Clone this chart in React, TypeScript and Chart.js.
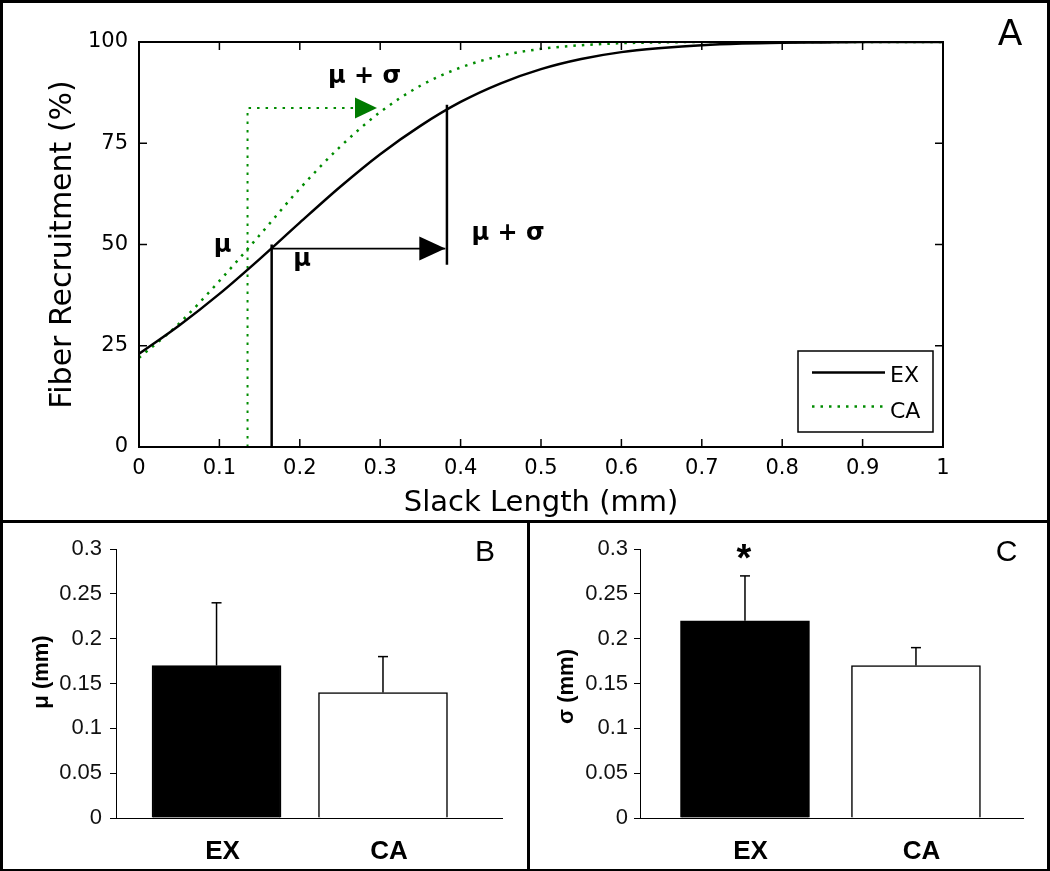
import React, { useEffect, useRef } from 'react';
import { Chart, registerables } from 'chart.js';
Chart.register(...registerables);

// ---------- Panel A data ----------
const slackLength = [0, 0.05, 0.1, 0.15, 0.2, 0.25, 0.3, 0.35, 0.4, 0.45, 0.5, 0.55, 0.6, 0.65, 0.7, 0.75, 0.8, 0.85, 0.9, 0.95, 1];
const exRecruitment = [23, 30, 37.8, 46.4, 55.4, 64.2, 72.3, 79.3, 85.2, 89.8, 93.3, 95.8, 97.5, 98.5, 99.2, 99.6, 99.8, 99.9, 100, 100, 100];
const caRecruitment = [22, 30.5, 41, 52.3, 63.8, 74.1, 82.7, 89.2, 93.7, 96.6, 98.3, 99.2, 99.7, 99.9, 100, 100, 100, 100, 100, 100, 100];

const xTicksA = [0, 0.1, 0.2, 0.3, 0.4, 0.5, 0.6, 0.7, 0.8, 0.9, 1];
const xTickLabelsA = ['0', '0.1', '0.2', '0.3', '0.4', '0.5', '0.6', '0.7', '0.8', '0.9', '1'];
const yTicksA = [0, 25, 50, 75, 100];
const yTickLabelsA = ['0', '25', '50', '75', '100'];

// guide lines (mu and mu+sigma markers)
const exMuGuideX = [0.165, 0.165];
const exMuGuideY = [0, 50];
const exArrowLineX = [0.165, 0.381];
const exArrowLineY = [49, 49];
const exSigmaGuideX = [0.383, 0.383];
const exSigmaGuideY = [45, 84.5];
const caGuideX = [0.135, 0.135, 0.29];
const caGuideY = [0, 83.7, 83.7];
const exArrowTip = [0.381, 49];
const caArrowTip = [0.296, 83.7];

// ---------- Panels B & C data ----------
const groups = ['EX', 'CA'];
const muMeans = [0.17, 0.14];
const muErrors = [0.07, 0.04];
const sigmaMeans = [0.22, 0.17];
const sigmaErrors = [0.05, 0.02];
const barTicks = [0, 0.05, 0.1, 0.15, 0.2, 0.25, 0.3];
const barTickLabels = ['0', '0.05', '0.1', '0.15', '0.2', '0.25', '0.3'];

const DV = 'DejaVu Sans';
const LS = 'Liberation Sans';
const GREEN = '#008c00';

function line(ctx: CanvasRenderingContext2D, x1: number, y1: number, x2: number, y2: number) {
  ctx.beginPath();
  ctx.moveTo(x1, y1);
  ctx.lineTo(x2, y2);
  ctx.stroke();
}

function triangleRight(ctx: CanvasRenderingContext2D, tx: number, ty: number, len: number, half: number, color: string) {
  ctx.fillStyle = color;
  ctx.beginPath();
  ctx.moveTo(tx, ty);
  ctx.lineTo(tx - len, ty - half);
  ctx.lineTo(tx - len, ty + half);
  ctx.closePath();
  ctx.fill();
}

const panelAPlugin = {
  id: 'panelA',
  afterDatasetsDraw(chart: any) {
    const { ctx, chartArea: a, scales } = chart;
    const x = scales.x;
    const y = scales.y;
    ctx.save();
    ctx.setLineDash([]);
    ctx.strokeStyle = '#000';
    ctx.lineWidth = 2;
    ctx.strokeRect(a.left, a.top, a.right - a.left, a.bottom - a.top);
    ctx.lineWidth = 1.5;
    xTicksA.forEach((v) => {
      const px = x.getPixelForValue(v);
      line(ctx, px, a.bottom, px, a.bottom - 8);
      line(ctx, px, a.top, px, a.top + 8);
    });
    yTicksA.forEach((v) => {
      const py = y.getPixelForValue(v);
      line(ctx, a.left, py, a.left + 8, py);
      line(ctx, a.right, py, a.right - 8, py);
    });
    // arrow heads
    triangleRight(ctx, x.getPixelForValue(exArrowTip[0]), y.getPixelForValue(exArrowTip[1]), 26, 12, '#000');
    triangleRight(ctx, x.getPixelForValue(caArrowTip[0]), y.getPixelForValue(caArrowTip[1]), 22, 10.5, '#007a00');

    // annotations
    ctx.fillStyle = '#000';
    ctx.font = `bold 24px "${DV}"`;
    ctx.textAlign = 'center';
    ctx.textBaseline = 'middle';
    const notes: [string, number, number][] = [
      ['μ', 0.104, 49.6],
      ['μ', 0.2027, 46.2],
      ['μ + σ', 0.459, 52.6],
      ['μ + σ', 0.2805, 91.4],
    ];
    notes.forEach(([t, vx, vy]) => ctx.fillText(t, x.getPixelForValue(vx), y.getPixelForValue(vy)));

    // legend
    const lw = 135, lh = 81;
    const lx = a.right - 10 - lw;
    const ly = a.bottom - 15 - lh;
    ctx.fillStyle = '#fff';
    ctx.fillRect(lx, ly, lw, lh);
    ctx.strokeStyle = '#000';
    ctx.lineWidth = 1.5;
    ctx.strokeRect(lx, ly, lw, lh);
    ctx.lineWidth = 2.5;
    line(ctx, lx + 14, ly + 21.5, lx + 87, ly + 21.5);
    ctx.strokeStyle = GREEN;
    ctx.setLineDash([2.5, 6]);
    line(ctx, lx + 14, ly + 55.5, lx + 87, ly + 55.5);
    ctx.setLineDash([]);
    ctx.fillStyle = '#000';
    ctx.font = `22px "${DV}"`;
    ctx.textAlign = 'left';
    ctx.fillText(chart.data.datasets[0].label, lx + 92, ly + 25);
    ctx.fillText(chart.data.datasets[1].label, lx + 92, ly + 61);

    // panel letter
    ctx.font = `36px "${DV}"`;
    ctx.textAlign = 'center';
    ctx.fillText('A', 1010, 36);
    ctx.restore();
  },
};

function pts(xs: number[], ys: number[]) {
  return xs.map((v, i) => ({ x: v, y: ys[i] }));
}

function configA(): any {
  const guide = (xs: number[], ys: number[], color: string, width: number, dash: number[] = []) => ({
    label: '',
    data: pts(xs, ys),
    showLine: true,
    borderColor: color,
    borderWidth: width,
    borderDash: dash,
    pointRadius: 0,
    tension: 0,
  });
  return {
    type: 'scatter',
    data: {
      datasets: [
        {
          label: 'EX',
          data: pts(slackLength, exRecruitment),
          showLine: true,
          borderColor: '#000',
          borderWidth: 2.5,
          pointRadius: 0,
          cubicInterpolationMode: 'monotone',
        },
        {
          label: 'CA',
          data: pts(slackLength, caRecruitment),
          showLine: true,
          borderColor: GREEN,
          borderWidth: 2.5,
          borderDash: [2.5, 6],
          pointRadius: 0,
          cubicInterpolationMode: 'monotone',
        },
        guide(caGuideX, caGuideY, GREEN, 2, [2.5, 6]),
        guide(exMuGuideX, exMuGuideY, '#000', 2.5),
        guide(exArrowLineX, exArrowLineY, '#000', 1.8),
        guide(exSigmaGuideX, exSigmaGuideY, '#000', 2.5),
      ],
    },
    options: {
      responsive: false,
      animation: false,
      layout: { padding: { left: 0, top: 42, right: 107, bottom: 0 } },
      plugins: { legend: { display: false }, tooltip: { enabled: false } },
      scales: {
        x: {
          type: 'linear',
          min: 0,
          max: 1,
          afterBuildTicks: (ax: any) => {
            ax.ticks = xTicksA.map((v) => ({ value: v }));
          },
          afterFit: (s: any) => {
            s.height = 75;
          },
          grid: { display: false, drawTicks: false },
          border: { display: false },
          ticks: {
            autoSkip: false,
            maxRotation: 0,
            padding: 9,
            color: '#000',
            font: { family: DV, size: 21 },
            callback: (_v: any, i: number) => xTickLabelsA[i],
          },
          title: {
            display: true,
            text: 'Slack Length (mm)',
            color: '#000',
            font: { family: DV, size: 29 },
            padding: { top: 0, bottom: 1 },
          },
        },
        y: {
          type: 'linear',
          min: 0,
          max: 100,
          afterBuildTicks: (ax: any) => {
            ax.ticks = yTicksA.map((v) => ({ value: v }));
          },
          afterFit: (s: any) => {
            s.width = 139;
          },
          grid: { display: false, drawTicks: false },
          border: { display: false },
          ticks: {
            padding: 11,
            color: '#000',
            font: { family: DV, size: 21 },
            callback: (_v: any, i: number) => yTickLabelsA[i],
          },
          title: {
            display: true,
            text: 'Fiber Recruitment (%)',
            color: '#000',
            font: { family: DV, size: 30 },
            padding: { top: 45, bottom: 0 },
          },
        },
      },
    },
    plugins: [panelAPlugin],
  };
}

type BarOpts = {
  means: number[];
  errors: number[];
  xMin: number;
  xMax: number;
  padRight: number;
  yWidth: number;
  tickPad: number;
  labelOffset: number;
  yTitle: string;
  titlePos: [number, number];
  letter: string;
  letterPos: [number, number];
  star: boolean;
};

function configBar(o: BarOpts): any {
  const plugin = {
    id: 'barExtras',
    afterDatasetsDraw(chart: any) {
      const { ctx, scales } = chart;
      const x = scales.x;
      const y = scales.y;
      ctx.save();
      ctx.strokeStyle = '#000';
      ctx.lineWidth = 1.5;
      o.means.forEach((m, i) => {
        const px = x.getPixelForValue(i + 1);
        const top = y.getPixelForValue(m + o.errors[i]);
        line(ctx, px, y.getPixelForValue(m), px, top);
        line(ctx, px - 5, top, px + 5, top);
      });
      ctx.fillStyle = '#000';
      // y title
      ctx.save();
      ctx.translate(o.titlePos[0], o.titlePos[1]);
      ctx.rotate(-Math.PI / 2);
      ctx.font = `bold 22px "${LS}"`;
      ctx.textAlign = 'center';
      ctx.textBaseline = 'middle';
      ctx.fillText(o.yTitle, 0, 0);
      ctx.restore();
      // panel letter
      ctx.font = `30px "${LS}"`;
      ctx.textAlign = 'center';
      ctx.textBaseline = 'middle';
      ctx.fillText(o.letter, o.letterPos[0], o.letterPos[1]);
      if (o.star) {
        ctx.font = `bold 38px "${LS}"`;
        ctx.textBaseline = 'alphabetic';
        ctx.fillText('*', x.getPixelForValue(1) - 1, y.getPixelForValue(0.3) + 22);
      }
      ctx.restore();
    },
  };
  return {
    type: 'bar',
    data: {
      datasets: [
        {
          data: o.means.map((m, i) => ({ x: i + 1, y: m })),
          backgroundColor: ['#000', '#fff'],
          borderColor: '#000',
          borderWidth: 1.5,
          barThickness: 129,
        },
      ],
    },
    options: {
      responsive: false,
      animation: false,
      layout: { padding: { left: 0, top: 27, right: o.padRight, bottom: 0 } },
      plugins: { legend: { display: false }, tooltip: { enabled: false } },
      scales: {
        x: {
          type: 'linear',
          min: o.xMin,
          max: o.xMax,
          offset: false,
          afterBuildTicks: (ax: any) => {
            ax.ticks = groups.map((_g, i) => ({ value: i + 1 }));
          },
          afterFit: (s: any) => {
            s.height = 51;
          },
          grid: { display: false, drawTicks: false },
          border: { display: true, color: '#000', width: 1 },
          ticks: {
            autoSkip: false,
            maxRotation: 0,
            padding: 18,
            labelOffset: o.labelOffset,
            color: '#000',
            font: { family: LS, size: 26, weight: 'bold' },
            callback: (_v: any, i: number) => groups[i],
          },
        },
        y: {
          type: 'linear',
          min: 0,
          max: 0.3,
          afterBuildTicks: (ax: any) => {
            ax.ticks = barTicks.map((v) => ({ value: v }));
          },
          afterFit: (s: any) => {
            s.width = o.yWidth;
          },
          grid: { display: true, drawOnChartArea: false, drawTicks: true, tickLength: 6, color: '#000', lineWidth: 1 },
          border: { display: true, color: '#000', width: 1 },
          ticks: {
            padding: o.tickPad,
            color: '#111',
            font: { family: LS, size: 22 },
            callback: (_v: any, i: number) => barTickLabels[i],
          },
        },
      },
    },
    plugins: [plugin],
  };
}

export default function App() {
  const refA = useRef<HTMLCanvasElement>(null);
  const refB = useRef<HTMLCanvasElement>(null);
  const refC = useRef<HTMLCanvasElement>(null);

  useEffect(() => {
    const a = new Chart(refA.current as HTMLCanvasElement, configA());
    const b = new Chart(
      refB.current as HTMLCanvasElement,
      configBar({
        means: muMeans,
        errors: muErrors,
        xMin: 0.396,
        xMax: 2.715,
        padRight: 25,
        yWidth: 116,
        tickPad: 8,
        labelOffset: 6,
        yTitle: 'μ (mm)',
        titlePos: [42, 150],
        letter: 'B',
        letterPos: [485, 31],
        star: false,
      })
    );
    const c = new Chart(
      refC.current as HTMLCanvasElement,
      configBar({
        means: sigmaMeans,
        errors: sigmaErrors,
        xMin: 0.386,
        xMax: 2.626,
        padRight: 24,
        yWidth: 110,
        tickPad: 6,
        labelOffset: 5.5,
        yTitle: 'σ (mm)',
        titlePos: [37, 164.5],
        letter: 'C',
        letterPos: [476.5, 31],
        star: true,
      })
    );
    return () => {
      a.destroy();
      b.destroy();
      c.destroy();
    };
  }, []);

  const abs = (l: number, t: number, w: number, h: number): React.CSSProperties => ({
    position: 'absolute',
    left: l,
    top: t,
    width: w,
    height: h,
  });

  return (
    <div style={{ ...abs(0, 0, 1050, 871), background: '#fff', overflow: 'hidden' }}>
      <canvas ref={refA} width={1050} height={522} style={abs(0, 0, 1050, 522)} />
      <canvas ref={refB} width={527} height={347} style={abs(0, 522, 527, 347)} />
      <canvas ref={refC} width={517} height={347} style={abs(530, 522, 517, 347)} />
      <div style={{ ...abs(0, 0, 1050, 871), boxSizing: 'border-box', borderStyle: 'solid', borderColor: '#000', borderWidth: '3px 3px 2px 3px', pointerEvents: 'none' }} />
      <div style={{ ...abs(0, 520, 1050, 2.5), background: '#000' }} />
      <div style={{ ...abs(527, 520, 3, 351), background: '#000' }} />
    </div>
  );
}
